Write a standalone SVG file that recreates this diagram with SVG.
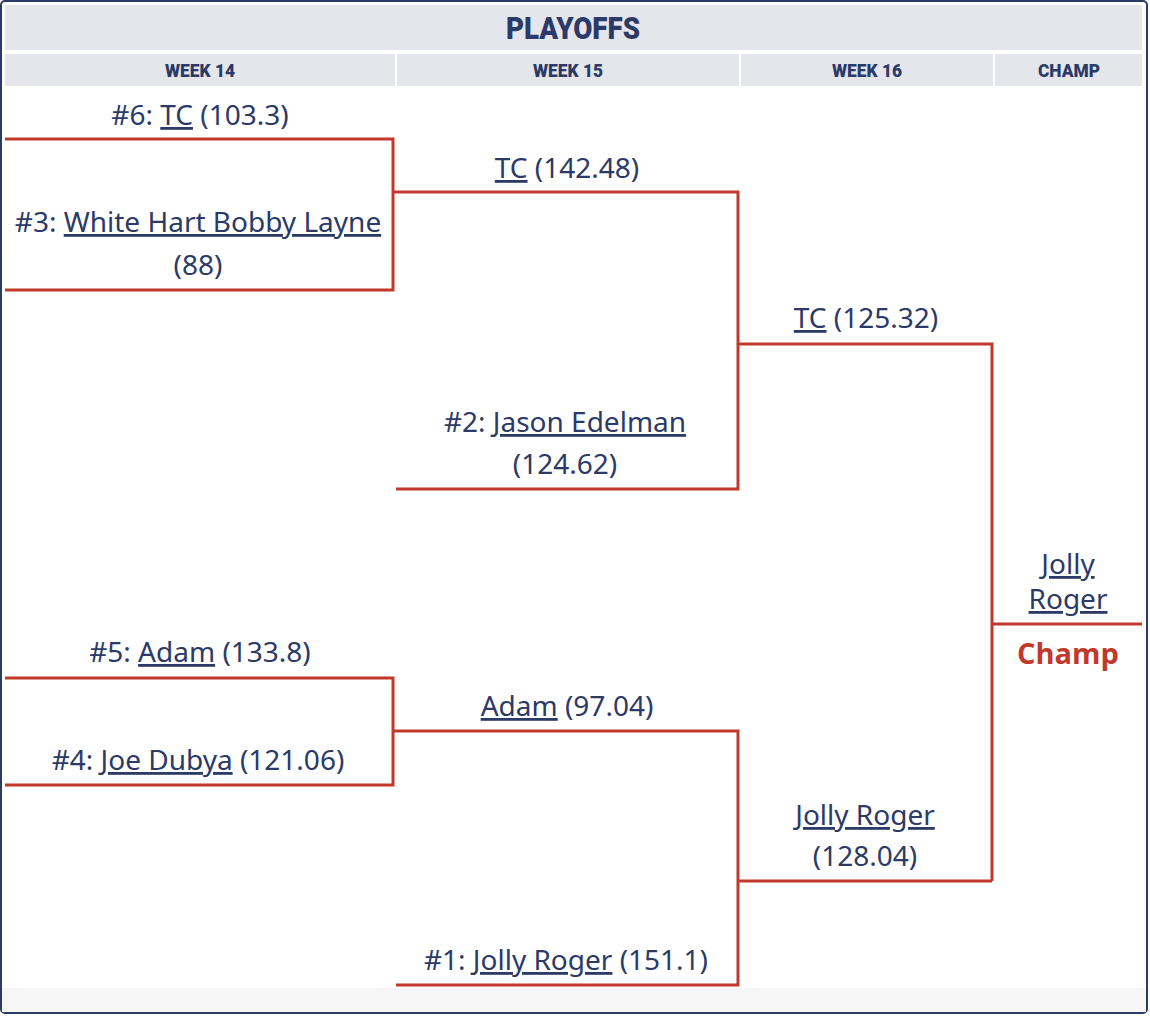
<svg xmlns="http://www.w3.org/2000/svg" width="1150" height="1016" viewBox="0 0 1150 1016">
<style>
.t{font-family:"Noto Sans","Open Sans",sans-serif;font-size:28px;fill:#2b3a67;text-anchor:middle}
.u{text-decoration:underline}
.h{font-family:Roboto,"Liberation Sans",sans-serif;font-weight:900;fill:#2b3a67;text-anchor:middle}
.hb{fill:#e4e6ec}
.l{stroke:#c0392b;stroke-width:3;fill:none}
</style>
<rect x="1" y="1" width="1146" height="1012" rx="4" fill="#fff" stroke="#2b3a67" stroke-width="2"/>
<rect x="2" y="988" width="1144" height="24" fill="#f6f6f6"/>
<g id="header">
<rect class="hb" x="5" y="5" width="1137" height="45"/>
<text class="h" x="573" y="39" font-size="31" textLength="134" lengthAdjust="spacingAndGlyphs">PLAYOFFS</text>
<rect class="hb" x="5" y="54" width="390" height="32"/>
<rect class="hb" x="397" y="54" width="342" height="32"/>
<rect class="hb" x="741" y="54" width="252" height="32"/>
<rect class="hb" x="995" y="54" width="147" height="32"/>
<text class="h" x="200" y="77" font-size="19" textLength="70" lengthAdjust="spacingAndGlyphs">WEEK 14</text>
<text class="h" x="568" y="77" font-size="19" textLength="70" lengthAdjust="spacingAndGlyphs">WEEK 15</text>
<text class="h" x="867" y="77" font-size="19" textLength="70" lengthAdjust="spacingAndGlyphs">WEEK 16</text>
<text class="h" x="1069" y="77" font-size="19" textLength="62" lengthAdjust="spacingAndGlyphs">CHAMP</text>
</g>
<g id="connectors">
<path class="l" d="M5 139H393V290H5M393 192H738V489H396M738 344H992V881M992 624H1142"/>
<path class="l" d="M5 678H393V785H5M393 731H738V985H396M738 881H992"/>
</g>
<g id="m1"><text class="t" x="200" y="125">#6: <tspan class="u">TC</tspan> (103.3)</text>
<text class="t" x="198" y="232">#3: <tspan class="u">White Hart Bobby Layne</tspan></text>
<text class="t" x="198" y="275">(88)</text></g>
<g id="m2"><text class="t" x="567" y="178"><tspan class="u">TC</tspan> (142.48)</text>
<text class="t" x="565" y="432">#2: <tspan class="u">Jason Edelman</tspan></text>
<text class="t" x="565" y="474">(124.62)</text></g>
<g id="m3"><text class="t" x="866" y="328"><tspan class="u">TC</tspan> (125.32)</text>
<text class="t" x="865" y="825"><tspan class="u">Jolly Roger</tspan></text>
<text class="t" x="865" y="866">(128.04)</text></g>
<g id="champ"><text class="t" x="1068" y="574"><tspan class="u">Jolly</tspan></text>
<text class="t" x="1068" y="609"><tspan class="u">Roger</tspan></text>
<text x="1068" y="664" font-family="'Open Sans',sans-serif" font-weight="bold" font-size="29" fill="#c0392b" text-anchor="middle">Champ</text></g>
<g id="m4"><text class="t" x="200" y="662">#5: <tspan class="u">Adam</tspan> (133.8)</text>
<text class="t" x="198" y="770">#4: <tspan class="u">Joe Dubya</tspan> (121.06)</text></g>
<g id="m5"><text class="t" x="567" y="716"><tspan class="u">Adam</tspan> (97.04)</text>
<text class="t" x="566" y="970">#1: <tspan class="u">Jolly Roger</tspan> (151.1)</text></g>
</svg>
